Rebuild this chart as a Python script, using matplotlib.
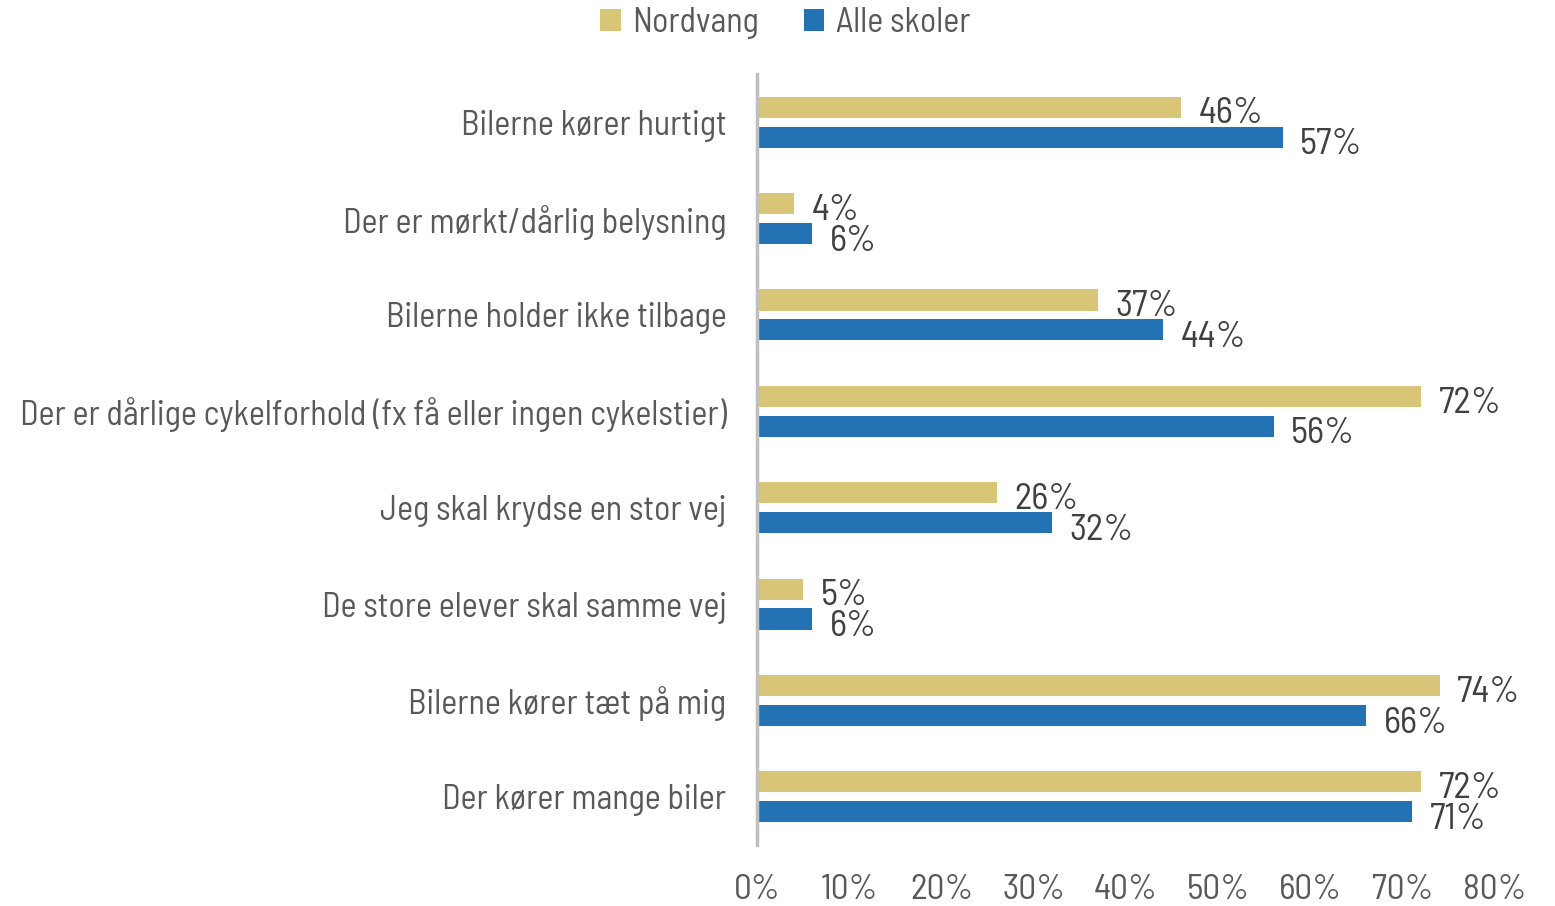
import numpy as np
import matplotlib.pyplot as plt

# data
categories = [
    "Bilerne kører hurtigt",
    "Der er mørkt/dårlig belysning",
    "Bilerne holder ikke tilbage",
    "Der er dårlige cykelforhold (fx få eller ingen cykelstier)",
    "Jeg skal krydse en stor vej",
    "De store elever skal samme vej",
    "Bilerne kører tæt på mig",
    "Der kører mange biler",
]
nordvang = [46, 4, 37, 72, 26, 5, 74, 72]
alle_skoler = [57, 6, 44, 56, 32, 6, 66, 71]
series_names = ["Nordvang", "Alle skoler"]
x_ticks = [0, 10, 20, 30, 40, 50, 60, 70, 80]

plt.rcParams['font.family'] = ['Barlow Semi Condensed', 'DejaVu Sans']
plt.rcParams['font.weight'] = 'normal'

gold = "#D8C577"
blue = "#2272B4"
txt = "#595959"
FS = 24.5
FS_VAL = 26.5

fig = plt.figure(figsize=(15.55, 9.06), dpi=100)
ax = fig.add_axes([757 / 1555, 61 / 906, (1495 - 757) / 1555, (832 - 61) / 906])

y = np.arange(len(categories))
h = 0.22
off = 0.155
ax.barh(y - off, nordvang, height=h, color=gold, label=series_names[0])
ax.barh(y + off, alle_skoler, height=h, color=blue, label=series_names[1])

for yi, v in zip(y, nordvang):
    ax.text(v + 1.9, yi - off + 0.07, f"{v}%", va="center", ha="left", fontsize=FS_VAL, color="#404040")
for yi, v in zip(y, alle_skoler):
    ax.text(v + 1.9, yi + off + 0.08, f"{v}%", va="center", ha="left", fontsize=FS_VAL, color="#404040")

ax.set_ylim(len(categories) - 0.5, -0.5)
ax.set_xlim(0, 80)
ax.set_yticks(y)
ax.set_yticklabels(categories, fontsize=FS, color=txt)
ax.set_xticks(x_ticks)
ax.set_xticklabels([f"{t}%" for t in x_ticks], fontsize=25.5, color=txt)
ax.tick_params(axis="both", length=0)
ax.tick_params(axis="y", pad=22)
ax.tick_params(axis="x", pad=21)

for s in ["top", "right", "bottom"]:
    ax.spines[s].set_visible(False)
ax.spines["left"].set_color("#BFBFBF")
ax.spines["left"].set_linewidth(2.5)

leg = fig.legend(loc="upper center", bbox_to_anchor=(0.505, 1.026), ncol=2, frameon=False,
                 fontsize=FS, handlelength=0.6, handleheight=0.6, handletextpad=0.35,
                 columnspacing=1.3)
for t in leg.get_texts():
    t.set_color(txt)

fig.savefig("out.png", dpi=100)
